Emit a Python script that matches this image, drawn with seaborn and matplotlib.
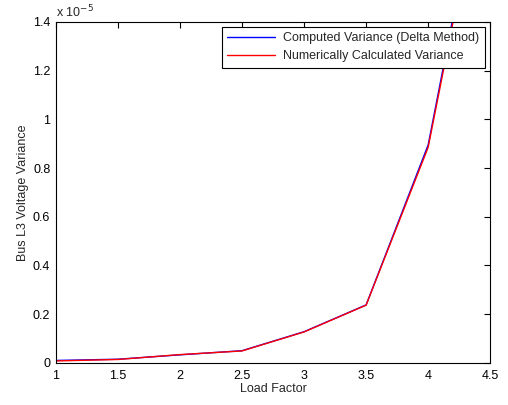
import numpy as np
import pandas as pd
import matplotlib
matplotlib.use("Agg")
import matplotlib.pyplot as plt
import matplotlib.ticker as ticker
import seaborn as sns

# Data
load_factor = [1.0, 1.5, 2.0, 2.5, 3.0, 3.5, 4.0, 4.5]
delta_var   = [0.010e-5, 0.015e-5, 0.033e-5, 0.050e-5, 0.128e-5, 0.238e-5, 0.895e-5, 2.20e-5]
numeric_var = [0.008e-5, 0.014e-5, 0.034e-5, 0.049e-5, 0.127e-5, 0.237e-5, 0.885e-5, 2.17e-5]
series_names = ["Computed Variance (Delta Method)", "Numerically Calculated Variance"]

df = pd.DataFrame({
    "Load Factor": load_factor * 2,
    "Variance": delta_var + numeric_var,
    "Series": [series_names[0]] * len(load_factor) + [series_names[1]] * len(load_factor),
})

sns.set_style("white")
plt.rcParams["font.family"] = ["Liberation Sans", "DejaVu Sans"]

fig = plt.figure(figsize=(5.08, 4.05), dpi=100)
ax = fig.add_axes([0.110, 0.104, 0.855, 0.842])

sns.lineplot(
    data=df, x="Load Factor", y="Variance", hue="Series",
    palette={series_names[0]: "#0000ff", series_names[1]: "#ff0000"},
    linewidth=1.0, ax=ax,
)

ax.set_xlim(1, 4.5)
ax.set_ylim(0, 1.4e-5)
ax.set_xticks(np.arange(1, 4.51, 0.5))
ax.set_yticks(np.arange(0, 1.41e-5, 0.2e-5))
ax.xaxis.set_major_formatter(ticker.FuncFormatter(lambda v, _: f"{v:g}"))
ax.yaxis.set_major_formatter(ticker.FuncFormatter(lambda v, _: f"{v / 1e-5:.1f}".rstrip("0").rstrip(".") if v else "0"))
ax.tick_params(direction="in", length=4, width=0.8, top=True, right=True,
               labelsize=9, colors="black", pad=4)
ax.tick_params(axis="x", pad=5)
for s in ax.spines.values():
    s.set_color("black")
    s.set_linewidth(0.8)

ax.set_xlabel("Load Factor", fontsize=9, labelpad=1)
ax.set_ylabel("Bus L3 Voltage Variance", fontsize=9, labelpad=3)
ax.text(0.0, 1.006, "x 10$^{-5}$", transform=ax.transAxes, fontsize=9, va="bottom", ha="left")

leg = ax.legend(loc="upper right", fontsize=9, frameon=True, fancybox=False,
                edgecolor="black", framealpha=1, borderaxespad=0.4,
                handlelength=3.8, borderpad=0.45, labelspacing=0.45, handletextpad=0.7)
leg.get_frame().set_linewidth(0.8)
leg.set_title(None)

fig.savefig("out.png", dpi=100)
